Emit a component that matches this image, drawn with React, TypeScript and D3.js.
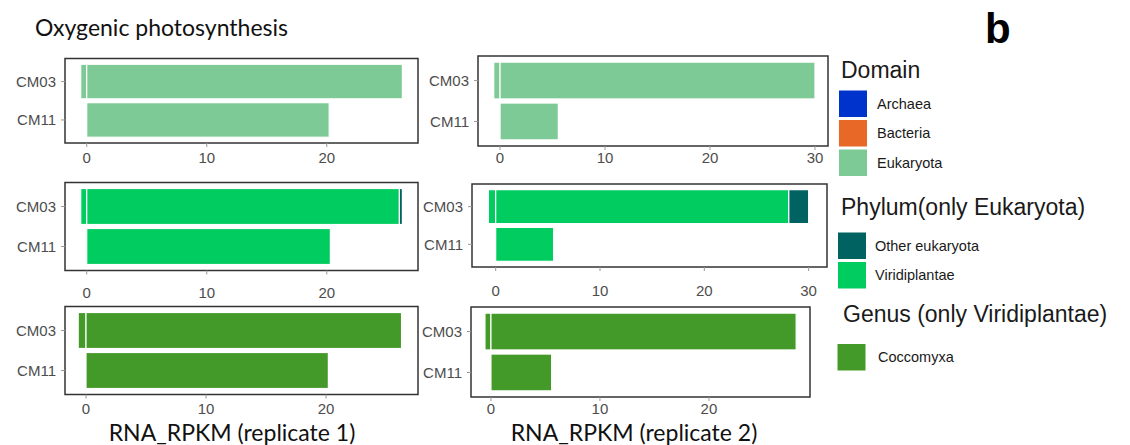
import React from 'react';
import * as d3 from 'd3';

const width = 1130, height = 445;

// samples shown on the y axis, top to bottom
const samples = ["CM03", "CM11"];

// each row is one piece of a stacked bar (negative pieces stack left of zero)
const domainRep1 = [
    { sample: "CM03", taxon: "Eukaryota", value: -0.5 },
    { sample: "CM03", taxon: "Eukaryota", value: 26.3 },
    { sample: "CM11", taxon: "Eukaryota", value: 20.2 },
];
const domainRep2 = [
    { sample: "CM03", taxon: "Eukaryota", value: -0.6 },
    { sample: "CM03", taxon: "Eukaryota", value: 30.0 },
    { sample: "CM11", taxon: "Eukaryota", value: 5.55 },
];
const phylumRep1 = [
    { sample: "CM03", taxon: "Viridiplantae", value: -0.5 },
    { sample: "CM03", taxon: "Viridiplantae", value: 26.05 },
    { sample: "CM03", taxon: "Other eukaryota", value: 0.25 },
    { sample: "CM11", taxon: "Viridiplantae", value: 20.3 },
];
const phylumRep2 = [
    { sample: "CM03", taxon: "Viridiplantae", value: -0.7 },
    { sample: "CM03", taxon: "Viridiplantae", value: 28.1 },
    { sample: "CM03", taxon: "Other eukaryota", value: 1.9 },
    { sample: "CM11", taxon: "Viridiplantae", value: 5.55 },
];
const genusRep1 = [
    { sample: "CM03", taxon: "Coccomyxa", value: -0.65 },
    { sample: "CM03", taxon: "Coccomyxa", value: 26.3 },
    { sample: "CM11", taxon: "Coccomyxa", value: 20.2 },
];
const genusRep2 = [
    { sample: "CM03", taxon: "Coccomyxa", value: -0.55 },
    { sample: "CM03", taxon: "Coccomyxa", value: 28.0 },
    { sample: "CM11", taxon: "Coccomyxa", value: 5.57 },
];

// x tick values
const ticksShort = [0, 10, 20];
const ticksLong = [0, 10, 20, 30];

// legend content
const domainTaxa = ["Archaea", "Bacteria", "Eukaryota"];
const phylumTaxa = ["Other eukaryota", "Viridiplantae"];
const genusTaxa = ["Coccomyxa"];

const colors = {
    "Archaea": "#0033cc",
    "Bacteria": "#e86828",
    "Eukaryota": "#7dca96",
    "Other eukaryota": "#006362",
    "Viridiplantae": "#00cc60",
    "Coccomyxa": "#449a28",
};

// panel frames in pixels, plus the x domain of each
const panels = [
    { data: domainRep1, ticks: ticksShort, domain: [-1.81, 27.6], x0: 65, x1: 418, y0: 58.5, y1: 143, labelTop: 152 },
    { data: domainRep2, ticks: ticksLong, domain: [-2.1, 31.24], x0: 478, x1: 828, y0: 56, y1: 146, labelTop: 152 },
    { data: phylumRep1, ticks: ticksShort, domain: [-1.81, 27.6], x0: 65, x1: 418, y0: 182.5, y1: 270.5, labelTop: 287 },
    { data: phylumRep2, ticks: ticksLong, domain: [-2.27, 31.76], x0: 472, x1: 827, y0: 184, y1: 267, labelTop: 285.5 },
    { data: genusRep1, ticks: ticksShort, domain: [-1.75, 27.67], x0: 65, x1: 418, y0: 306.5, y1: 394.5, labelTop: 403 },
    { data: genusRep2, ticks: ticksShort, domain: [-1.83, 29.27], x0: 471, x1: 810, y0: 307, y1: 397, labelTop: 403 },
];

const axisFont = '"Liberation Sans", Arial, sans-serif';
const titleFont = 'Lato, "Open Sans", sans-serif';

// stack pieces per sample: positives grow right from 0, negatives grow left
function stackPieces(rows) {
    const pos = {}, neg = {};
    return rows.map(r => {
        const store = r.value >= 0 ? pos : neg;
        const base = store[r.sample] ?? 0;
        const end = base + r.value;
        store[r.sample] = end;
        return { ...r, start: Math.min(base, end), end: Math.max(base, end) };
    });
}

function Panel({ p }) {
    const x = d3.scaleLinear().domain(p.domain).range([p.x0, p.x1]);
    const y = d3.scaleBand().domain(samples).range([p.y0, p.y1])
        .paddingInner(0.1).paddingOuter(0.15);
    const pieces = stackPieces(p.data);
    return (
        <g>
            {pieces.map((d, i) => (
                <rect key={i} x={x(d.start)} y={y(d.sample)}
                    width={x(d.end) - x(d.start)} height={y.bandwidth()}
                    fill={colors[d.taxon]} stroke="#ffffff" strokeWidth={1.2} />
            ))}
            <rect x={p.x0} y={p.y0} width={p.x1 - p.x0} height={p.y1 - p.y0}
                fill="none" stroke="#333333" strokeWidth={1.5} />
            {samples.map(s => {
                const cy = y(s) + y.bandwidth() / 2;
                return (
                    <g key={s}>
                        <line x1={p.x0 - 4} x2={p.x0} y1={cy} y2={cy} stroke="#999" strokeWidth={1} />
                        <text x={p.x0 - 9} y={cy} dy="0.35em" textAnchor="end"
                            fontFamily={axisFont} fontSize={15} fill="#4d4d4d">{s}</text>
                    </g>
                );
            })}
            {p.ticks.map(t => (
                <g key={t}>
                    <line x1={x(t)} x2={x(t)} y1={p.y1} y2={p.y1 + 4} stroke="#999" strokeWidth={1} />
                    <text x={x(t)} y={p.labelTop} dy="0.71em" textAnchor="middle"
                        fontFamily={axisFont} fontSize={15} fill="#4d4d4d">{t}</text>
                </g>
            ))}
        </g>
    );
}

// legend block: title baseline and top of the first swatch
const legendBlocks = [
    { title: "Domain", items: domainTaxa, titleX: 841, titleY: 78, top: 90, swX: 838.5, labelX: 877 },
    { title: "Phylum(only Eukaryota)", items: phylumTaxa, titleX: 841, titleY: 215, top: 232, swX: 837.5, labelX: 875 },
    { title: "Genus (only Viridiplantae)", items: genusTaxa, titleX: 843, titleY: 322, top: 343.5, swX: 837, labelX: 878 },
];

export default function App() {
    return (
        <svg width={width} height={height} viewBox={`0 0 ${width} ${height}`}
            style={{ position: 'absolute', left: 0, top: 0, background: '#fff' }}>
            <rect x={0} y={0} width={width} height={height} fill="#ffffff" />
            <text x={35} y={36} fontFamily={titleFont} fontSize={23} fill="#111">Oxygenic photosynthesis</text>
            <text x={985} y={43} fontFamily={axisFont} fontSize={42} fontWeight="bold" fill="#000">b</text>

            {panels.map((p, i) => <Panel key={i} p={p} />)}

            <text x={232} y={440.5} textAnchor="middle" fontFamily={titleFont} fontSize={23} fill="#111">RNA_RPKM (replicate 1)</text>
            <text x={634} y={440.5} textAnchor="middle" fontFamily={titleFont} fontSize={23} fill="#111">RNA_RPKM (replicate 2)</text>

            {legendBlocks.map(b => (
                <g key={b.title}>
                    <text x={b.titleX} y={b.titleY} fontFamily={axisFont} fontSize={23} fill="#1a1a1a">{b.title}</text>
                    {b.items.map((it, i) => {
                        const top = b.top + i * 29.5;
                        return (
                            <g key={it}>
                                <rect x={b.swX} y={top} width={29} height={27.5} fill={colors[it]}
                                    stroke="#ffffff" strokeWidth={1} />
                                <text x={b.labelX} y={top + 13.5} dy="0.35em" fontFamily={axisFont}
                                    fontSize={14.5} fill="#1a1a1a">{it}</text>
                            </g>
                        );
                    })}
                </g>
            ))}
        </svg>
    );
}
